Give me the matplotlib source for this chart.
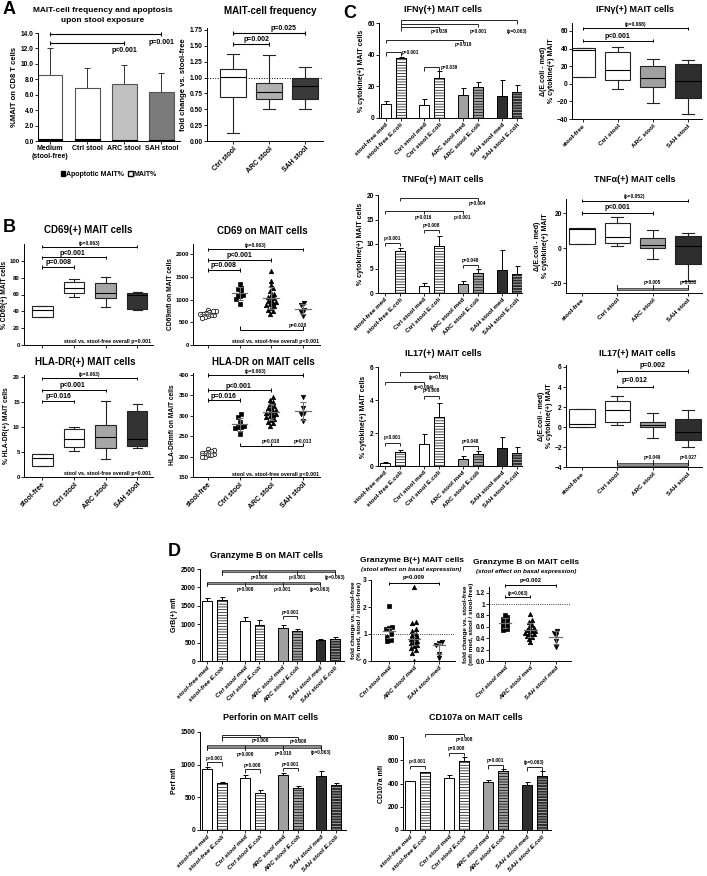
import numpy as np
import matplotlib
matplotlib.use("Agg")
import matplotlib.pyplot as plt
from matplotlib.patches import Patch

plt.rcParams['font.family'] = ['Liberation Sans', 'DejaVu Sans']
plt.rcParams['font.weight'] = 'bold'
plt.rcParams['axes.labelweight'] = 'bold'
plt.rcParams['hatch.linewidth'] = 0.5

# ---------------- data ----------------
# A
a_groups = ['Medium\n(stool-free)', 'Ctrl stool', 'ARC stool', 'SAH stool']
a_mait = [8.6, 6.85, 7.4, 6.4]
a_mait_sd = [3.4, 2.6, 2.45, 2.4]
a_apopt = [0.2, 0.3, 0.15, 0.15]

a_fold_groups = ['Ctrl stool', 'ARC stool', 'SAH stool']
a_fold_med = [1.01, 0.77, 0.87]
a_fold_q1 = [0.70, 0.66, 0.66]
a_fold_q3 = [1.13, 0.92, 1.00]
a_fold_lo = [0.13, 0.50, 0.50]
a_fold_hi = [1.37, 1.36, 1.17]

# B
b_groups = ['stool-free', 'Ctrl stool', 'ARC stool', 'SAH stool']
cd69_med = [41, 68, 62, 59]
cd69_q1 = [33, 62, 56, 43]
cd69_q3 = [46, 75, 74, 62]
cd69_lo = [33, 57, 45, 42]
cd69_hi = [46, 78, 81, 63]

hla_med = [3.7, 7.6, 8.0, 7.5]
hla_q1 = [2.2, 6.0, 5.7, 6.2]
hla_q3 = [4.6, 9.5, 10.3, 13.2]
hla_lo = [2.2, 5.2, 3.6, 5.8]
hla_hi = [4.6, 10.0, 15.1, 14.5]

cd69_mfi_sf = [760, 750, 740, 720, 700, 690, 680, 660, 650, 640, 620, 600]
cd69_mfi_ctrl = [1340, 1250, 1240, 1160, 1110, 1090, 1080, 1020, 900]
cd69_mfi_arc = [1620, 1410, 1320, 1250, 1180, 1130, 1100, 1060, 1030, 1000,
                970, 950, 920, 900, 880, 850, 820, 780, 740, 690]
cd69_mfi_sah = [930, 890, 780, 720, 640]

hla_mfi_sf = [218, 216, 214, 212, 210, 208, 206, 205, 203, 200, 198]
hla_mfi_ctrl = [304, 296, 286, 276, 273, 272, 270, 255]
hla_mfi_arc = [347, 340, 335, 330, 325, 320, 318, 315, 312, 310,
               308, 305, 303, 300, 297, 293, 290, 286, 282, 276]
hla_mfi_sah = [345, 318, 306, 304, 288]

# C
c_labels = ['stool-free med', 'stool-free E.coli', 'Ctrl stool med', 'Ctrl stool E.coli',
            'ARC stool med', 'ARC stool E.coli', 'SAH stool med', 'SAH stool E.coli']
ifng = [9.0, 38.2, 8.3, 25.3, 14.3, 19.8, 13.8, 16.5]
ifng_err = [2.0, 0.6, 3.7, 4.2, 4.4, 2.7, 10.2, 4.5]
tnfa = [0.05, 8.5, 1.5, 9.5, 1.8, 4.0, 4.6, 3.9]
tnfa_err = [0.05, 0.7, 0.5, 2.1, 0.7, 0.8, 4.2, 1.6]
il17 = [0.2, 0.85, 1.35, 3.0, 0.45, 0.72, 1.1, 0.78]
il17_err = [0.03, 0.15, 0.6, 0.8, 0.15, 0.16, 0.65, 0.39]

ifng_d_med = [38, 16, 6, 3]
ifng_d_q1 = [8, 4, -4, -16]
ifng_d_q3 = [41, 36, 20, 22]
ifng_d_lo = [8, -6, -22, -34]
ifng_d_hi = [41, 42, 28, 27]

tnfa_d_med = [11, 6.5, 2, 1.5]
tnfa_d_q1 = [2.5, 3, 0, -9]
tnfa_d_q3 = [11.5, 14.5, 6, 7]
tnfa_d_lo = [2.5, 1, -6, -18.5]
tnfa_d_hi = [11.5, 18, 10.5, 8.5]

il17_d_med = [0.3, 1.7, 0.2, -0.45]
il17_d_q1 = [0.0, 0.55, 0.0, -1.3]
il17_d_q3 = [1.8, 2.65, 0.5, 0.8]
il17_d_lo = [0.0, 0.25, -1.05, -2.0]
il17_d_hi = [1.8, 3.1, 1.4, 1.75]

# D
grb = [1620, 1650, 1100, 990, 900, 810, 580, 610]
grb_err = [100, 80, 90, 120, 90, 70, 20, 40]
perf = [940, 715, 790, 565, 840, 645, 825, 685]
perf_err = [20, 15, 50, 45, 30, 25, 85, 35]
cd107a = [420, 495, 445, 590, 410, 510, 390, 465]
cd107a_err = [5, 5, 30, 35, 20, 15, 20, 40]

d_groups = ['Ctrl stool med', 'ARC stool med', 'SAH stool med']
grb_fold_ctrl = [2.05, 1.25, 1.22, 1.2, 1.0, 0.9, 0.78, 0.75]
grb_fold_arc = [2.75, 1.45, 1.4, 1.2, 1.1, 1.0, 0.95, 0.9, 0.85, 0.8, 0.75,
                0.7, 0.65, 0.6, 0.55, 0.5, 0.4, 0.3, 0.0]
grb_fold_sah = [0.7, 0.65, 0.6, 0.25, 0.1]
grb_mfi_ctrl = [0.8, 0.78, 0.74, 0.7, 0.66, 0.63, 0.6, 0.56, 0.55]
grb_mfi_arc = [0.83, 0.72, 0.68, 0.64, 0.6, 0.58, 0.56, 0.55, 0.53, 0.52,
               0.5, 0.49, 0.48, 0.46, 0.44, 0.42, 0.38, 0.33]
grb_mfi_sah = [0.52, 0.5, 0.45, 0.35, 0.25]

# ---------------- helpers ----------------
W, H = 707, 876
fig = plt.figure(figsize=(W / 100, H / 100), dpi=100)


def px_axes(x0, y0, x1, y1, fs=4.8):
    ax = fig.add_axes([x0 / W, 1 - y1 / H, (x1 - x0) / W, (y1 - y0) / H])
    for s in ['top', 'right']:
        ax.spines[s].set_visible(False)
    for s in ['left', 'bottom']:
        ax.spines[s].set_linewidth(0.7)
    ax.tick_params(labelsize=fs, length=2, width=0.6, pad=1)
    return ax


def ftext(x, y, s, fs=6.5, **kw):
    fig.text(x / W, 1 - y / H, s, ha='center', va='center', fontsize=fs, **kw)


def bracket(ax, x1, x2, y, kind='cap', mids=(), h=None, lw=0.7, color='black'):
    lo, hi = ax.get_ylim()
    if h is None:
        h = (hi - lo) * 0.018
    kw = dict(color=color, lw=lw, clip_on=False, solid_capstyle='butt')
    ax.plot([x1, x2], [y, y], **kw)
    for x in (x1, x2) + tuple(mids):
        if kind == 'cap':
            ax.plot([x, x], [y - h, y + h], **kw)
        elif kind == 'down':
            ax.plot([x, x], [y - 2 * h, y], **kw)
        elif kind == 'up':
            ax.plot([x, x], [y, y + 2 * h], **kw)


def band(ax, x1, x2, y, mids=(), kind='down'):
    lo, hi = ax.get_ylim()
    h = (hi - lo) * 0.012
    ax.fill_between([x1, x2], y - h, y + h, color='#8c8c8c', ec='black', lw=0.4, clip_on=False)
    for x in (x1, x2) + tuple(mids):
        if kind == 'down':
            ax.plot([x, x], [y - 3.5 * h, y], color='black', lw=0.6, clip_on=False)
        else:
            ax.plot([x, x], [y, y + 3.5 * h], color='black', lw=0.6, clip_on=False)


def ptext(ax, x, y, s, fs=4, **kw):
    ax.text(x, y, s, ha='center', va='center', fontsize=fs, clip_on=False, **kw)


def boxes(ax, med, q1, q3, lo, hi, colors, width=0.65):
    stats = [dict(med=m, q1=a, q3=b, whislo=l, whishi=h)
             for m, a, b, l, h in zip(med, q1, q3, lo, hi)]
    lw = 0.8
    bp = ax.bxp(stats, positions=np.arange(len(stats)), widths=width, patch_artist=True,
                showfliers=False, capwidths=width * 0.45, manage_ticks=False,
                boxprops=dict(lw=lw, edgecolor='#222222'),
                medianprops=dict(color='black', lw=lw),
                whiskerprops=dict(lw=lw, color='#222222'),
                capprops=dict(lw=lw, color='#222222'))
    for p, c in zip(bp['boxes'], colors):
        p.set_facecolor(c)


def bars8(ax, vals, errs, gap=2.6, width=0.67):
    pos = np.array([g * gap + k for g in range(4) for k in range(2)])
    faces = ['white', 'white', '#a0a0a0', '#2e2e2e']
    for i, (p, v, e) in enumerate(zip(pos, vals, errs)):
        g, k = divmod(i, 2)
        ax.errorbar(p, v, yerr=[[0], [e]], color='black', lw=0.7, capsize=1.8,
                    capthick=0.7, zorder=1)
        ax.bar(p, v, width, color=faces[g], edgecolor='black', linewidth=0.7, zorder=2)
        if k == 1:
            hc = '#c8c8c8' if g == 3 else 'black'
            ax.bar(p, v, width, color='none', edgecolor=hc, linewidth=0,
                   hatch='------', zorder=3)
            ax.bar(p, v, width, color='none', edgecolor='black', linewidth=0.7, zorder=4)
    return pos


def spread(vals, thr, w):
    vals = np.asarray(vals, dtype=float)
    order = np.argsort(vals)
    offs = np.zeros(len(vals))
    rows, row = [], [order[0]]
    for idx in order[1:]:
        if vals[idx] - vals[row[0]] < thr:
            row.append(idx)
        else:
            rows.append(row)
            row = [idx]
    rows.append(row)
    for r in rows:
        n = len(r)
        for j, idx in enumerate(r):
            offs[idx] = (j - (n - 1) / 2) * w
    return offs


def dots(ax, groups, markers, faces, stat='mean', start=0, ms=3.2, w=0.11):
    lo_, hi_ = ax.get_ylim()
    thr = (hi_ - lo_) * 0.035
    for i, (vals, m, fc) in enumerate(zip(groups, markers, faces)):
        v = np.asarray(vals, dtype=float)
        x = start + i
        ax.plot(x + spread(v, thr, w), v, ls='none', marker=m, ms=ms, mfc=fc,
                mec='black', mew=0.5, zorder=3)
        if stat == 'mean':
            c = v.mean()
            lo, hi = c - v.std(ddof=1), c + v.std(ddof=1)
        else:
            c = np.median(v)
            lo, hi = np.percentile(v, [25, 75])
        ax.plot([x - 0.25, x + 0.25], [c, c], color='#707070', lw=0.9, zorder=4)
        ax.errorbar(x, c, yerr=[[c - lo], [hi - c]], color='#707070', lw=0.8,
                    capsize=2, capthick=0.8, zorder=4)


def rot_labels(ax, labels, fs=4.6, italic=False):
    ax.set_xticklabels(labels, rotation=45, ha='right', rotation_mode='anchor',
                       fontsize=fs, fontstyle='italic' if italic else 'normal')


# ---------------- panel A ----------------
ax = px_axes(38, 33, 180, 141)
ax.set_ylim(0, 14)
ax.set_xlim(-0.33, 3.5)
x = np.arange(4)
a_fc = ['white', 'white', '#c0c0c0', '#7a7a7a']
ax.errorbar(x, a_mait, yerr=[np.zeros(4), a_mait_sd], fmt='none', color='#333333',
            lw=0.7, capsize=2, capthick=0.7, zorder=1)
ax.bar(x, a_mait, 0.66, color=a_fc, edgecolor='#555555', linewidth=0.8, zorder=2)
ax.bar(x, a_apopt, 0.66, color='black', edgecolor='black', linewidth=0.8, zorder=3)
ax.set_yticks(np.arange(0, 14.1, 2))
ax.set_yticklabels(['%.1f' % t for t in np.arange(0, 14.1, 2)])
ax.set_xticks(x)
ax.set_xticklabels(a_groups, fontsize=5)
ax.set_ylabel('%MAIT on CD8 T cells', fontsize=5.5, labelpad=2)
bracket(ax, 0, 3, 13.85, lw=0.8, h=0.3)
bracket(ax, 0, 2, 12.7, lw=0.8, h=0.3)
ptext(ax, 3, 12.75, 'p=0.001', fs=5)
ptext(ax, 2, 11.7, 'p<0.001', fs=5)
ax.legend([Patch(fc='black', ec='black'), Patch(fc='white', ec='black')],
          ['Apoptotic MAIT%', 'MAIT%'], loc='upper center', bbox_to_anchor=(0.5, -0.22),
          ncol=2, frameon=False, fontsize=5, handlelength=0.6, handleheight=0.6,
          handletextpad=0.15, columnspacing=0.6)
ftext(103, 10, 'MAIT-cell frequency and apoptosis', fs=6)
ftext(103, 20, 'upon stool exposure', fs=6)

ax = px_axes(207, 28, 323, 141)
ax.set_ylim(0, 1.78)
ax.set_xlim(-0.72, 2.5)
ax.axhline(1.0, color='black', lw=0.7, ls=':', zorder=0)
boxes(ax, a_fold_med, a_fold_q1, a_fold_q3, a_fold_lo, a_fold_hi,
      ['white', '#b0b0b0', '#3a3a3a'], width=0.72)
ax.set_yticks(np.arange(0, 1.76, 0.25))
ax.set_yticklabels(['%.2f' % t for t in np.arange(0, 1.76, 0.25)])
ax.set_xticks(range(3))
rot_labels(ax, a_fold_groups, fs=5)
ax.set_ylabel('fold change vs. stool-free', fontsize=5.5, labelpad=2)
bracket(ax, 0, 2, 1.70, lw=0.8, h=0.035)
bracket(ax, 0, 1, 1.53, lw=0.8, h=0.035)
ptext(ax, 1.4, 1.77, 'p=0.025', fs=5)
ptext(ax, 0.65, 1.60, 'p=0.002', fs=5)
ftext(270, 11, 'MAIT-cell frequency', fs=7)

# ---------------- panel B ----------------
b_colors = ['white', 'white', '#a6a6a6', '#333333']

ax = px_axes(24, 244, 153, 345, fs=4.3)
ax.set_ylim(0, 120)
ax.set_xlim(-0.58, 3.5)
boxes(ax, cd69_med, cd69_q1, cd69_q3, cd69_lo, cd69_hi, b_colors)
ax.set_yticks(range(0, 101, 20))
ax.set_xticks(range(4))
ax.set_xticklabels([])
ax.set_ylabel('% CD69(+) MAIT cells', fontsize=4.8, labelpad=1)
bracket(ax, 0, 3, 117)
bracket(ax, 0, 2, 104)
bracket(ax, 0, 1, 93)
ptext(ax, 1.5, 121, '(p=0.063)', fs=3.5)
ptext(ax, 0.95, 109, 'p<0.001', fs=5)
ptext(ax, 0.5, 98, 'p=0.008', fs=5)
ax.text(3.45, 4, 'stool vs. stool-free overall p=0.001', ha='right', va='center', fontsize=3.8)
ftext(88, 230, 'CD69(+) MAIT cells', fs=7)

ax = px_axes(193, 244, 320, 345, fs=4.3)
ax.set_ylim(0, 2220)
ax.set_xlim(-0.47, 3.54)
dots(ax, [cd69_mfi_sf, cd69_mfi_ctrl, cd69_mfi_arc, cd69_mfi_sah],
     ['o', 's', '^', 'v'], ['white', 'black', 'black', 'black'], w=0.1)
ax.set_yticks(range(0, 2001, 500))
ax.set_xticks(range(4))
ax.set_xticklabels([])
ax.set_ylabel('CD69mfi on MAIT cells', fontsize=4.8, labelpad=1)
bracket(ax, 0, 3, 2100)
bracket(ax, 0, 2, 1870)
bracket(ax, 0, 1, 1650)
ptext(ax, 1.5, 2180, '(p=0.063)', fs=3.5)
ptext(ax, 1.0, 1960, 'p<0.001', fs=5)
ptext(ax, 0.5, 1740, 'p=0.008', fs=5)
bracket(ax, 1, 3, 330, kind='up', h=40)
ptext(ax, 2.85, 430, 'p=0.020', fs=3.5)
ax.text(3.5, 80, 'stool vs. stool-free overall p<0.001', ha='right', va='center', fontsize=3.8)
ftext(262, 231, 'CD69 on MAIT cells', fs=7)

ax = px_axes(24, 375, 153, 477, fs=4.3)
ax.set_ylim(0, 20.4)
ax.set_xlim(-0.58, 3.5)
boxes(ax, hla_med, hla_q1, hla_q3, hla_lo, hla_hi, b_colors)
ax.set_yticks(range(0, 21, 5))
ax.set_xticks(range(4))
rot_labels(ax, b_groups, fs=5)
ax.set_ylabel('% HLA-DR(+) MAIT cells', fontsize=4.8, labelpad=2)
bracket(ax, 0, 3, 19.7)
bracket(ax, 0, 2, 17.3)
bracket(ax, 0, 1, 15.1)
ptext(ax, 1.5, 20.5, '(p=0.063)', fs=3.5)
ptext(ax, 0.95, 18.2, 'p<0.001', fs=5)
ptext(ax, 0.5, 16.0, 'p=0.016', fs=5)
ax.text(3.45, 0.7, 'stool vs. stool-free overall p=0.001', ha='right', va='center', fontsize=3.8)
ftext(85, 362, 'HLA-DR(+) MAIT cells', fs=7)

ax = px_axes(193, 373, 320, 477, fs=4.3)
ax.set_ylim(150, 405)
ax.set_xlim(-0.47, 3.54)
dots(ax, [hla_mfi_sf, hla_mfi_ctrl, hla_mfi_arc, hla_mfi_sah],
     ['o', 's', '^', 'v'], ['white', 'black', 'black', 'black'], w=0.1)
ax.set_yticks(range(150, 401, 50))
ax.set_xticks(range(4))
rot_labels(ax, b_groups, fs=5)
ax.set_ylabel('HLA-DRmfi on MAIT cells', fontsize=4.8, labelpad=2)
bracket(ax, 0, 3, 400)
bracket(ax, 0, 2, 363)
bracket(ax, 0, 1, 339)
ptext(ax, 1.5, 409, '(p=0.063)', fs=3.5)
ptext(ax, 0.95, 372, 'p<0.001', fs=5)
ptext(ax, 0.5, 348, 'p=0.016', fs=5)
bracket(ax, 1, 3, 226, kind='up', mids=(2,), h=4)
ptext(ax, 2.0, 238, 'p=0.018', fs=3.5)
ptext(ax, 3.0, 238, 'p=0.013', fs=3.5)
ax.text(3.5, 156, 'stool vs. stool-free overall p<0.001', ha='right', va='center', fontsize=3.8)
ftext(263, 362, 'HLA-DR on MAIT cells', fs=7)

# ---------------- panel C ----------------
c_colors = ['white', 'white', '#a0a0a0', '#2e2e2e']

ax = px_axes(379, 23, 522, 118)
ax.set_ylim(0, 60)
ax.set_xlim(-0.45, 9.15)
pos = bars8(ax, ifng, ifng_err)
ax.set_yticks(range(0, 61, 20))
ax.set_xticks(pos)
rot_labels(ax, c_labels)
ax.set_ylabel('% cytokine(+) MAIT cells', fontsize=5, labelpad=2)
bracket(ax, pos[1], pos[7], 61.8, kind='down', lw=0.6)
bracket(ax, pos[1], pos[5], 59.6, kind='down', lw=0.6)
bracket(ax, pos[1], pos[3], 57.4, kind='down', lw=0.6)
ptext(ax, pos[3], 54.5, 'p=0.039', fs=3.3)
ptext(ax, pos[5], 54.5, 'p=0.001', fs=3.3)
ptext(ax, pos[7], 54.5, '(p=0.063)', fs=3.3)
bracket(ax, pos[0], pos[4], 49.5, kind='down', lw=0.6)
ptext(ax, pos[4], 46.5, 'p=0.018', fs=3.3)
bracket(ax, pos[0], pos[1], 41.5, kind='down', lw=0.6)
ax.text(pos[1] + 0.1, 41.5, 'p=0.001', fontsize=3.3, va='center')
bracket(ax, pos[2], pos[3], 32, kind='down', lw=0.6)
ax.text(pos[3] + 0.1, 32, 'p=0.039', fontsize=3.3, va='center')
ftext(443, 10, 'IFNγ(+) MAIT cells', fs=6.5)

ax = px_axes(572, 23, 702, 119)
ax.set_ylim(-40, 69)
ax.set_xlim(-0.3, 3.4)
boxes(ax, ifng_d_med, ifng_d_q1, ifng_d_q3, ifng_d_lo, ifng_d_hi, c_colors, width=0.72)
ax.set_yticks(range(-40, 61, 20))
ax.set_xticks(range(4))
rot_labels(ax, b_groups)
ax.set_ylabel('Δ(E.coli - med)\n% cytokine(+) MAIT', fontsize=5, labelpad=1)
bracket(ax, 0, 3, 63)
bracket(ax, 0, 2, 49)
ptext(ax, 1.5, 67, '(p=0.068)', fs=3.5)
ptext(ax, 1.0, 54, 'p<0.001', fs=5)
ftext(635, 10, 'IFNγ(+) MAIT cells', fs=6.5)

ax = px_axes(378, 195, 522, 293)
ax.set_ylim(0, 20)
ax.set_xlim(-0.45, 9.15)
pos = bars8(ax, tnfa, tnfa_err)
ax.set_yticks(range(0, 21, 5))
ax.set_xticks(pos)
rot_labels(ax, c_labels)
ax.set_ylabel('% cytokine(+) MAIT cells', fontsize=5, labelpad=2)
bracket(ax, pos[1], pos[5], 19.4, kind='down', lw=0.6)
ptext(ax, pos[5], 18.3, 'p=0.004', fs=3.3)
bracket(ax, pos[0], pos[4], 16.8, kind='down', mids=(pos[2],), lw=0.6)
ptext(ax, pos[2], 15.4, 'p=0.016', fs=3.3)
ptext(ax, pos[4], 15.4, 'p<0.001', fs=3.3)
bracket(ax, pos[0], pos[1], 10.3, kind='down', lw=0.6)
ptext(ax, 0.5, 11.2, 'p<0.001', fs=3.3)
bracket(ax, pos[2], pos[3], 12.9, kind='down', lw=0.6)
ptext(ax, (pos[2] + pos[3]) / 2, 13.8, 'p=0.008', fs=3.3)
bracket(ax, pos[4], pos[5], 5.8, kind='down', lw=0.6)
ptext(ax, (pos[4] + pos[5]) / 2, 6.7, 'p=0.048', fs=3.3)
ftext(443, 180, 'TNFα(+) MAIT cells', fs=6.5)

ax = px_axes(566, 199, 702, 293)
ax.set_ylim(-25.5, 28)
ax.set_xlim(-0.45, 3.4)
boxes(ax, tnfa_d_med, tnfa_d_q1, tnfa_d_q3, tnfa_d_lo, tnfa_d_hi, c_colors, width=0.72)
ax.set_yticks([-20, 0, 20])
ax.set_xticks(range(4))
rot_labels(ax, b_groups)
ax.set_ylabel('Δ(E.coli - med)\n% cytokine(+) MAIT', fontsize=5, labelpad=1)
bracket(ax, 0, 3, 27)
bracket(ax, 0, 2, 20)
ptext(ax, 1.5, 29.5, '(p=0.052)', fs=3.5)
ptext(ax, 1.0, 23, 'p<0.001', fs=5)
band(ax, 1, 3, -23.3, mids=(2,), kind='up')
ptext(ax, 2.0, -19.5, 'p=0.005', fs=3.3)
ptext(ax, 3.0, -19.5, 'p=0.033', fs=3.3)
ftext(635, 180, 'TNFα(+) MAIT cells', fs=6.5)

ax = px_axes(378, 367, 522, 466)
ax.set_ylim(0, 6)
ax.set_xlim(-0.45, 9.15)
pos = bars8(ax, il17, il17_err)
ax.set_yticks(range(0, 7, 2))
ax.set_xticks(pos)
rot_labels(ax, c_labels)
ax.set_ylabel('% cytokine(+) MAIT cells', fontsize=5, labelpad=2)
bracket(ax, pos[1], pos[3], 5.7, kind='down', lw=0.6)
ptext(ax, pos[3], 5.35, '(p=0.055)', fs=3.3)
bracket(ax, pos[0], pos[2], 5.1, kind='down', lw=0.6)
ptext(ax, pos[2], 4.75, '(p=0.094)', fs=3.3)
bracket(ax, pos[0], pos[1], 1.4, kind='down', lw=0.6)
ptext(ax, 0.5, 1.7, 'p<0.001', fs=3.3)
bracket(ax, pos[2], pos[3], 4.25, kind='down', lw=0.6)
ptext(ax, (pos[2] + pos[3]) / 2, 4.55, 'p=0.008', fs=3.3)
bracket(ax, pos[4], pos[5], 1.2, kind='down', lw=0.6)
ptext(ax, (pos[4] + pos[5]) / 2, 1.5, 'p=0.048', fs=3.3)
ftext(443, 354, 'IL17(+) MAIT cells', fs=6.5)

ax = px_axes(566, 365, 702, 467)
ax.set_ylim(-4, 6.2)
ax.set_xlim(-0.45, 3.4)
boxes(ax, il17_d_med, il17_d_q1, il17_d_q3, il17_d_lo, il17_d_hi, c_colors, width=0.72)
ax.set_yticks(range(-4, 7, 2))
ax.set_xticks(range(4))
rot_labels(ax, b_groups)
ax.set_ylabel('Δ(E.coli - med)\n% cytokine(+) MAIT', fontsize=5, labelpad=1)
bracket(ax, 1, 3, 5.6)
bracket(ax, 1, 2, 4.05)
ptext(ax, 2.0, 6.15, 'p=0.002', fs=5)
ptext(ax, 1.5, 4.6, 'p=0.012', fs=5)
band(ax, 1, 3, -3.75, mids=(2,), kind='up')
ptext(ax, 2.0, -3.1, 'p=0.049', fs=3.3)
ptext(ax, 3.0, -3.1, 'p=0.027', fs=3.3)
ftext(637, 354, 'IL17(+) MAIT cells', fs=6.5)

# ---------------- panel D ----------------
ax = px_axes(200, 569, 344, 661)
ax.set_ylim(0, 2500)
ax.set_xlim(-0.5, 9.43)
pos = bars8(ax, grb, grb_err)
ax.set_yticks(range(0, 2501, 500))
ax.set_xticks(pos)
rot_labels(ax, c_labels, italic=True)
ax.set_ylabel('GrB(+) mfi', fontsize=5, labelpad=2)
band(ax, pos[1], pos[7], 2450, mids=(pos[3], pos[5]))
ptext(ax, pos[3], 2280, 'p=0.008', fs=3.3)
ptext(ax, pos[5], 2280, 'p<0.001', fs=3.3)
ptext(ax, pos[7], 2280, '(p=0.063)', fs=3.3)
band(ax, pos[0], pos[6], 2130, mids=(pos[2], pos[4]))
ptext(ax, pos[2], 1950, 'p=0.008', fs=3.3)
ptext(ax, pos[4], 1950, 'p<0.001', fs=3.3)
ptext(ax, pos[6], 1950, '(p=0.063)', fs=3.3)
bracket(ax, pos[4], pos[5], 1220, kind='down', lw=0.6)
ptext(ax, (pos[4] + pos[5]) / 2, 1330, 'p=0.001', fs=3.3)
ftext(266, 555, 'Granzyme B on MAIT cells', fs=6.5)

ax = px_axes(371, 580, 455, 661)
ax.set_ylim(0, 3)
ax.set_xlim(-0.72, 2.64)
ax.axhline(1.0, color='black', lw=0.6, ls=':', zorder=0)
dots(ax, [grb_fold_ctrl, grb_fold_arc, grb_fold_sah], ['s', '^', 'v'],
     ['black', 'black', 'black'], stat='median', w=0.13)
ax.set_yticks(range(0, 4))
ax.set_xticks(range(3))
rot_labels(ax, d_groups, italic=True)
ax.set_ylabel('fold change vs. stool-free\n(% med, stool / stool-free)', fontsize=4.6, labelpad=1)
bracket(ax, 0, 2, 2.88)
ptext(ax, 1.0, 3.08, 'p=0.009', fs=4.2)
ftext(412, 560, 'Granzyme B(+) MAIT cells', fs=6)
ftext(411, 569, '(stool effect on basal expression)', fs=4.6, style='italic')

ax = px_axes(489, 587, 571, 661)
ax.set_ylim(0, 1.3)
ax.set_xlim(-0.63, 2.6)
ax.axhline(1.0, color='black', lw=0.6, ls=':', zorder=0)
dots(ax, [grb_mfi_ctrl, grb_mfi_arc, grb_mfi_sah], ['s', '^', 'v'],
     ['black', 'black', 'black'], stat='mean', w=0.13)
ax.set_yticks(np.arange(0, 1.21, 0.2))
ax.set_yticklabels(['0.0', '0.2', '0.4', '0.6', '0.8', '1', '1.2'])
ax.set_xticks(range(3))
rot_labels(ax, d_groups, italic=True)
ax.set_ylabel('fold change vs. stool-free\n(mfi med, stool / stool-free)', fontsize=4.6, labelpad=1)
bracket(ax, 0, 2, 1.33)
bracket(ax, 0, 1, 1.13)
ptext(ax, 1.0, 1.41, 'p=0.002', fs=4.2)
ptext(ax, 0.5, 1.18, '(p=0.063)', fs=3.3)
ftext(526, 563, 'Granzyme B on MAIT cells', fs=6)
ftext(526, 572, '(stool effect on basal expression)', fs=4.6, style='italic')

ax = px_axes(200, 732, 346, 830)
ax.set_ylim(0, 1500)
ax.set_xlim(-0.5, 9.5)
pos = bars8(ax, perf, perf_err)
ax.set_yticks([0, 500, 1000, 1500])
ax.set_xticks(pos)
rot_labels(ax, c_labels, italic=True)
ax.set_ylabel('Perf mfi', fontsize=5, labelpad=2)
bracket(ax, pos[1], pos[3], 1460, kind='down', lw=0.6)
ptext(ax, pos[3], 1370, 'p=0.008', fs=3.3)
bracket(ax, pos[1], pos[5], 1420, kind='down', lw=0.6)
ptext(ax, pos[5], 1360, 'p=0.009', fs=3.3)
band(ax, pos[0], pos[6], 1280, mids=(pos[2], pos[4]))
ptext(ax, pos[2], 1160, 'p=0.008', fs=3.3)
ptext(ax, pos[4], 1170, 'p=0.010', fs=3.3)
ptext(ax, pos[6], 1190, '(p=0.063)', fs=3.3)
bracket(ax, pos[0], pos[1], 1040, kind='down', lw=0.6)
ptext(ax, 0.5, 1100, 'p<0.001', fs=3.3)
bracket(ax, pos[2], pos[3], 930, kind='down', lw=0.6)
ptext(ax, (pos[2] + pos[3]) / 2, 990, 'p=0.008', fs=3.3)
bracket(ax, pos[4], pos[5], 950, kind='down', lw=0.6)
ptext(ax, (pos[4] + pos[5]) / 2, 1010, 'p=0.001', fs=3.3)
ftext(271, 718, 'Perforin on MAIT cells', fs=6.5)

ax = px_axes(403, 737, 551, 830)
ax.set_ylim(0, 800)
ax.set_xlim(-0.45, 9.4)
pos = bars8(ax, cd107a, cd107a_err)
ax.set_yticks(range(0, 801, 200))
ax.set_xticks(pos)
rot_labels(ax, c_labels, italic=True)
ax.set_ylabel('CD107a mfi', fontsize=5, labelpad=2)
bracket(ax, pos[1], pos[3], 826, kind='down', lw=0.6)
ptext(ax, pos[3], 776, 'p=0.008', fs=3.3)
bracket(ax, pos[0], pos[1], 553, kind='down', lw=0.6)
ptext(ax, 0.5, 590, 'p<0.001', fs=3.3)
bracket(ax, pos[2], pos[3], 663, kind='down', lw=0.6)
ptext(ax, (pos[2] + pos[3]) / 2, 700, 'p=0.008', fs=3.3)
bracket(ax, pos[4], pos[5], 555, kind='down', lw=0.6)
ptext(ax, (pos[4] + pos[5]) / 2, 595, 'p=0.001', fs=3.3)
bracket(ax, pos[6], pos[7], 540, kind='down', lw=0.6)
ptext(ax, (pos[6] + pos[7]) / 2, 580, '(p=0.063)', fs=3.3)
ftext(476, 718, 'CD107a on MAIT cells', fs=6.5)

# panel letters
for lab, (lx, ly) in {'A': (9, 10), 'B': (9, 227), 'C': (350, 14), 'D': (174, 552)}.items():
    ftext(lx, ly, lab, fs=13)

fig.savefig('out.png', dpi=100)
